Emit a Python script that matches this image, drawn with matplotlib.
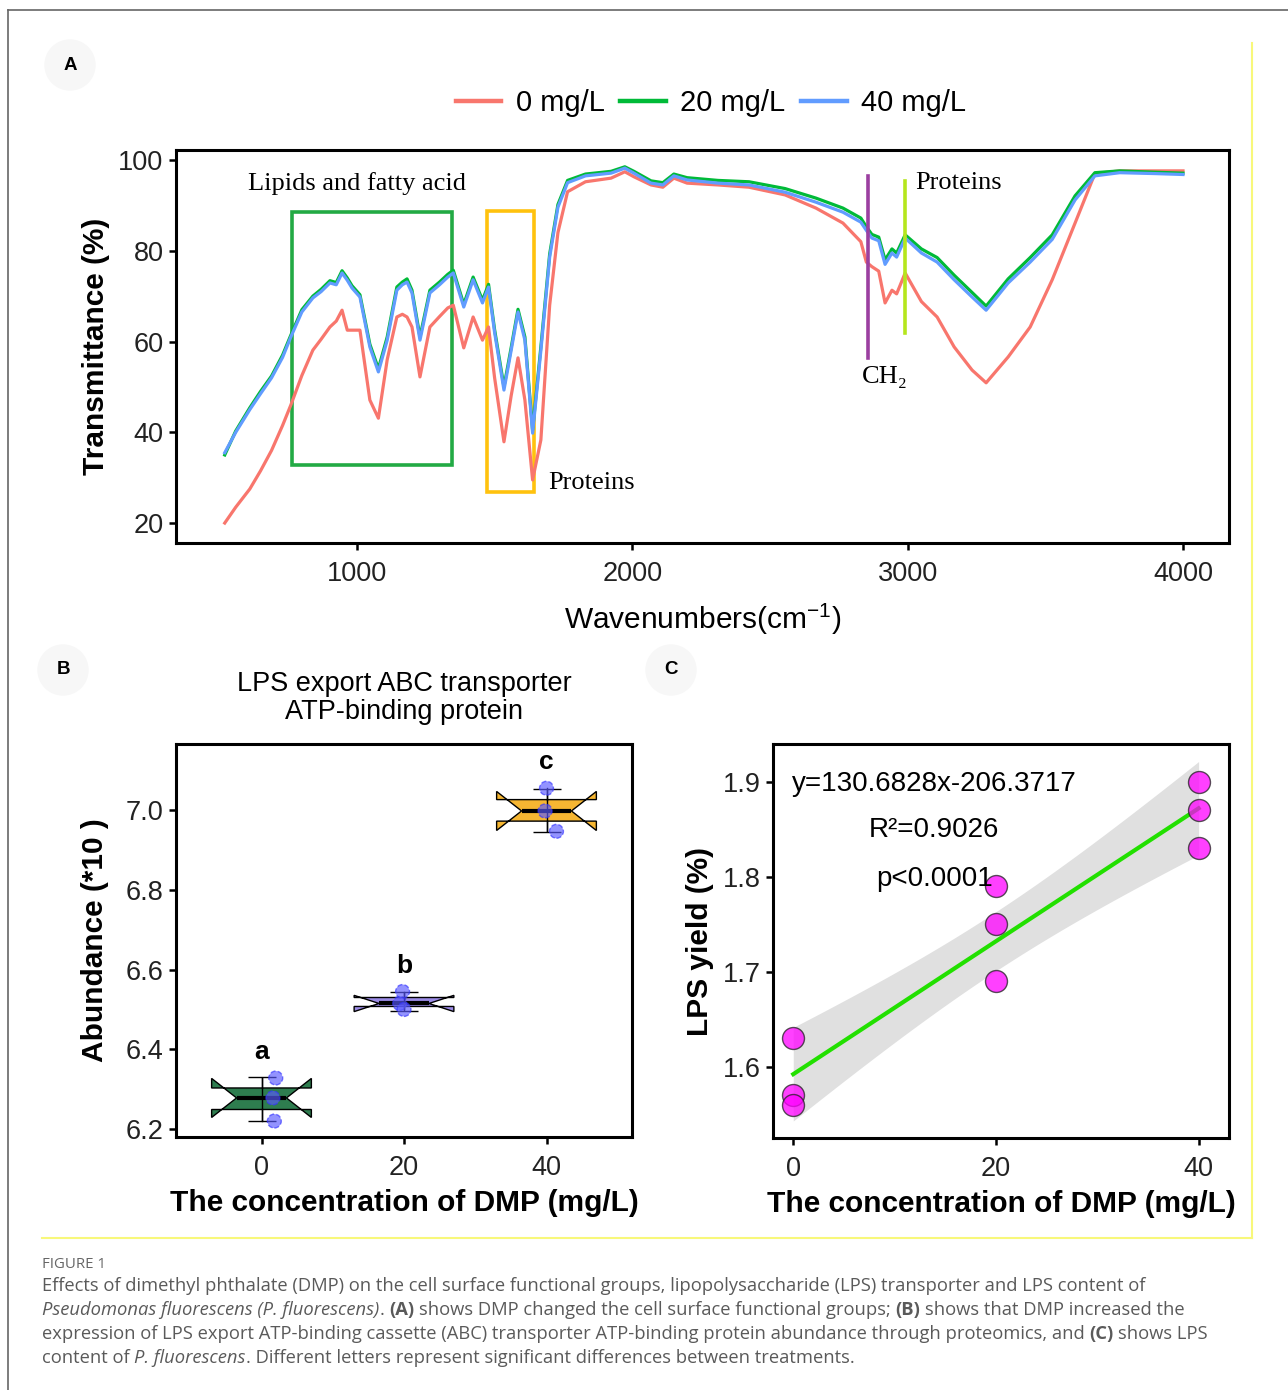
import numpy as np
import matplotlib.pyplot as plt
from matplotlib.lines import Line2D
from matplotlib.patches import Ellipse

plt.rcParams['font.family'] = 'Liberation Sans'
plt.rcParams['mathtext.fontset'] = 'custom'
plt.rcParams['mathtext.rm'] = 'Liberation Sans'

# ---- panel A: FTIR spectra ----
wavenumber = [520, 560, 611, 650, 690, 730, 760, 800, 840, 870, 902, 925, 946, 965, 982,
              1011, 1047, 1078, 1110, 1145, 1165, 1182, 1200, 1229, 1265, 1300, 1330, 1350,
              1388, 1422, 1456, 1478, 1500, 1534, 1560, 1585, 1610, 1638, 1668, 1700, 1730,
              1765, 1830, 1923, 1973, 2006, 2068, 2111, 2151, 2199, 2311, 2424, 2555, 2667,
              2765, 2830, 2850, 2870, 2895, 2918, 2943, 2960, 2991, 3050, 3107, 3169, 3234,
              3285, 3365, 3445, 3525, 3608, 3680, 3770, 3900, 4000]
trans_0 = [20, 23.5, 27.5, 31.5, 36, 41.5, 46, 52.5, 58.1, 60.5, 63.2, 64.5, 66.9, 62.5, 62.5,
           62.5, 47.1, 43.1, 56, 65.4, 66, 65.4, 63.2, 52.2, 63.2, 65.5, 67.4, 68.0,
           58.6, 65.4, 60.3, 63.2, 52, 37.9, 48, 56.4, 47.1, 29.5, 38.3, 68, 84,
           93.0, 95.2, 96.0, 97.4, 96.3, 94.5, 94.0, 96.0, 94.9, 94.5, 94.0, 92.3, 89.4,
           86.1, 82.0, 77.5, 76.5, 75.5, 68.5, 71.3, 70.5, 75.1, 68.8, 65.4, 58.8, 53.7,
           50.9, 56.6, 63.2, 73.6, 86.1, 97.0, 97.6, 97.6, 97.6]
trans_20 = [35.0, 40.3, 45.4, 49, 52.4, 57, 61.4, 67, 70, 71.5, 73.4, 73, 75.6, 74, 72.3,
            70.3, 59.4, 54, 61, 72, 73.1, 73.8, 71.3, 61, 71.3, 73.1, 74.8, 75.7,
            68.2, 74.2, 69.1, 72.6, 62.6, 50, 58.6, 67.1, 61, 40.5, 58.8, 79.3, 90.2,
            95.5, 96.9, 97.5, 98.5, 97.5, 95.4, 95, 96.9, 96.1, 95.5, 95.2, 93.7, 91.6,
            89.4, 87.2, 85.3, 83.6, 83, 78, 80.4, 79.5, 83.5, 80.4, 78.5, 74.6, 70.8,
            67.8, 73.8, 78.5, 83.5, 92.1, 97.2, 97.6, 97.3, 97.1]
trans_40 = [35.5, 40, 45, 48.5, 52, 56.5, 61, 66.5, 69.6, 71, 72.9, 72.5, 75.1, 73.5, 71.8,
            69.8, 58.8, 53.3, 60.3, 71.3, 72.5, 73.1, 70.7, 60.3, 70.7, 72.5, 74.2, 75.1,
            67.6, 73.6, 68.5, 72.0, 62, 49.3, 58, 66.5, 60.3, 39.8, 58, 78.6, 89.6,
            95.0, 96.5, 97.1, 98.2, 97.1, 94.9, 94.5, 96.5, 95.6, 94.9, 94.5, 92.9, 90.7,
            88.5, 86.3, 84.5, 82.8, 82.2, 77.0, 79.5, 78.6, 82.8, 79.5, 77.5, 73.6, 69.8,
            66.9, 72.9, 77.5, 82.5, 91.2, 96.5, 97.2, 97.0, 96.8]
spectra_labels = ['0 mg/L', '20 mg/L', '40 mg/L']
spectra_colors = ['#F8766D', '#00BA38', '#619CFF']

# ---- panel B: protein abundance ----
groups = ['0', '20', '40']
abund_0 = [6.328, 6.278, 6.220]
abund_20 = [6.545, 6.515, 6.500]
abund_40 = [7.055, 6.998, 6.947]
jitter = [[0.10, 0.08, 0.09], [-0.01, -0.03, 0.0], [0.0, -0.01, 0.07]]
sig_letters = ['a', 'b', 'c']
box_colors = ['#2E7D4F', '#9B8BE6', '#F6B632']

# ---- panel C: LPS yield ----
dmp_conc = [0, 0, 0, 20, 20, 20, 40, 40, 40]
lps_yield = [1.63, 1.57, 1.56, 1.79, 1.75, 1.69, 1.90, 1.87, 1.83]

W, H = 1288, 1390
fig = plt.figure(figsize=(W / 100, H / 100), dpi=100)


def fx(px):
    return px / W


def fy(py):
    return 1 - py / H


def style_axes(ax):
    for s in ax.spines.values():
        s.set_linewidth(2.2)
        s.set_color('black')
    ax.tick_params(direction='out', length=5, width=1.8, labelsize=19.5,
                   labelcolor='#222222', pad=4)


# ================= A =================
axA = fig.add_axes([fx(176), fy(543), (1229 - 176) / W, (543 - 150) / H])
for t, c in zip([trans_0, trans_20, trans_40], spectra_colors):
    axA.plot(wavenumber, t, color=c, lw=2.3, solid_joinstyle='round')
axA.set_xlim(343, 4167)
axA.set_ylim(15.6, 102.2)
axA.set_xticks([1000, 2000, 3000, 4000])
axA.set_yticks([20, 40, 60, 80, 100])
style_axes(axA)
axA.tick_params(axis='x', pad=8)
axA.set_ylabel('Transmittance (%)', fontsize=21.5, fontweight='bold')
axA.yaxis.set_label_coords(-0.063, 0.5)
axA.set_xlabel('Wavenumbers(cm$^{\\mathrm{-1}}$)', fontsize=21.5)
axA.xaxis.set_label_coords(0.5, -0.148)

# annotation boxes and lines
axA.add_patch(plt.Rectangle((764, 32.8), 1345 - 764, 88.5 - 32.8, fill=False,
                            ec='#22AA44', lw=2.6))
axA.add_patch(plt.Rectangle((1472, 26.8), 1643 - 1472, 88.8 - 26.8, fill=False,
                            ec='#FFC20E', lw=2.6))
axA.plot([2856, 2856], [56.4, 96.5], color='#9B3FA0', lw=2.6)
axA.plot([2990, 2990], [61.9, 95.4], color='#B5E61D', lw=2.6)
serif = ['Liberation Serif', 'DejaVu Serif']
axA.text(1000, 94.9, 'Lipids and fatty acid', family=serif, fontsize=19,
         ha='center', va='center')
axA.text(1694, 28.8, 'Proteins', family=serif, fontsize=19, ha='left', va='center')
axA.text(3027, 94.9, 'Proteins', family=serif, fontsize=19, ha='left', va='center')
axA.text(2834, 52.2, 'CH₂', family=serif, fontsize=19, ha='left', va='center')

handles = [Line2D([], [], color=c, lw=3.2) for c in spectra_colors]
fig.legend(handles, spectra_labels, loc='center', bbox_to_anchor=(fx(711), fy(103)),
           bbox_transform=fig.transFigure, ncol=3, frameon=False, fontsize=21,
           handlelength=1.55, handletextpad=0.5, columnspacing=0.55)

# ================= B =================
axB = fig.add_axes([fx(176), fy(1137), (632 - 176) / W, (1137 - 744) / H])
abund = [abund_0, abund_20, abund_40]
pos = [0, 1, 2]
bp = axB.boxplot(abund, positions=pos, widths=0.7, notch=True, patch_artist=True,
                 showcaps=False, showfliers=False,
                 medianprops=dict(color='black', lw=3),
                 boxprops=dict(edgecolor='black', lw=1),
                 whiskerprops=dict(color='black', lw=1))
for patch, c in zip(bp['boxes'], box_colors):
    patch.set_facecolor(c)
means = [np.mean(a) for a in abund]
sds = [np.std(a, ddof=1) for a in abund]
axB.errorbar(pos, means, yerr=sds, fmt='none', ecolor='black', elinewidth=1,
             capsize=10, capthick=1, zorder=4)
for p, a, j in zip(pos, abund, jitter):
    axB.scatter(np.add(p, j), a, s=100, color='#5A5AFF', alpha=0.65,
                edgecolors='#3333FF', linestyles='--', lw=1, zorder=5)
for p, a, lt in zip(pos, abund, sig_letters):
    axB.text(p, max(a) + 0.065, lt, fontsize=19, fontweight='bold',
             ha='center', va='center')
axB.set_xlim(-0.6, 2.6)
axB.set_ylim(6.18, 7.166)
axB.set_xticks(pos)
axB.set_xticklabels(groups)
axB.set_yticks([6.2, 6.4, 6.6, 6.8, 7.0])
axB.set_yticklabels(['6.2', '6.4', '6.6', '6.8', '7.0'])
style_axes(axB)
axB.tick_params(axis='x', pad=8)
axB.set_title('LPS export ABC transporter\nATP-binding protein', fontsize=19.5,
              linespacing=1.1, pad=18)
axB.set_ylabel('Abundance (*10 )', fontsize=21.5, fontweight='bold')
axB.yaxis.set_label_coords(-0.147, 0.5)
axB.set_xlabel('The concentration of DMP (mg/L)', fontsize=21.5, fontweight='bold')
axB.xaxis.set_label_coords(0.5, -0.132)

# ================= C =================
axC = fig.add_axes([fx(773), fy(1138), (1229 - 773) / W, (1138 - 744) / H])
x = np.array(dmp_conc, dtype=float)
y = np.array(lps_yield)
slope, intercept = np.polyfit(x, y, 1)
xx = np.linspace(x.min(), x.max(), 80)
fit = intercept + slope * xx
resid = y - (intercept + slope * x)
s_err = np.sqrt(np.sum(resid ** 2) / (len(x) - 2))
se = s_err * np.sqrt(1 / len(x) + (xx - x.mean()) ** 2 / np.sum((x - x.mean()) ** 2))
t_crit = 2.365
axC.fill_between(xx, fit - t_crit * se, fit + t_crit * se, color='#E0E0E0', lw=0, zorder=1)
axC.plot(xx, fit, color='#22E000', lw=3, zorder=2)
axC.scatter(x, y, s=250, color='#FF00FF', alpha=0.75, edgecolors='#222222', lw=1, zorder=3)
axC.text(13.9, 1.898, 'y=130.6828x-206.3717', fontsize=20, ha='center', va='center')
axC.text(13.9, 1.8495, 'R²=0.9026', fontsize=20, ha='center', va='center')
axC.text(13.9, 1.798, 'p<0.0001', fontsize=20, ha='center', va='center')
axC.set_xlim(-2, 43)
axC.set_ylim(1.525, 1.94)
axC.set_xticks([0, 20, 40])
axC.set_yticks([1.6, 1.7, 1.8, 1.9])
style_axes(axC)
axC.tick_params(axis='x', pad=8)
axC.set_ylabel('LPS yield (%)', fontsize=21.5, fontweight='bold')
axC.yaxis.set_label_coords(-0.13, 0.5)
axC.set_xlabel('The concentration of DMP (mg/L)', fontsize=21.5, fontweight='bold')
axC.xaxis.set_label_coords(0.5, -0.132)

# ---- panel letters ----
for lab, px, py in [('A', 70, 65), ('B', 63, 670), ('C', 671, 670)]:
    fig.add_artist(Ellipse((fx(px), fy(py)), 50 / W, 50 / H, transform=fig.transFigure,
                           color='#F7F7F7', zorder=0))
    fig.text(fx(px), fy(py), lab, fontsize=13.5, fontweight='bold', ha='center', va='center')

# ---- frame lines ----
fig.add_artist(Line2D([fx(8), fx(1288)], [fy(10), fy(10)], color='#666666', lw=1.2))
fig.add_artist(Line2D([fx(8), fx(8)], [fy(10), fy(1390)], color='#666666', lw=1.2))
fig.add_artist(Line2D([fx(1252), fx(1252)], [fy(43), fy(1238)], color='#F8F87A', lw=1.5))
fig.add_artist(Line2D([fx(42), fx(1252)], [fy(1238), fy(1238)], color='#F8F87A', lw=1.5))

# ---- caption (runs of normal / italic / bold text laid side by side) ----
fig.text(fx(42), fy(1264), 'FIGURE 1', fontsize=10.8, color='#666666', va='center',
         family='Open Sans')
caption = [
    [('Effects of dimethyl phthalate (DMP) on the cell surface functional groups, '
      'lipopolysaccharide (LPS) transporter and LPS content of', 'n')],
    [('Pseudomonas fluorescens (P. fluorescens)', 'i'), ('. ', 'n'), ('(A)', 'b'),
     (' shows DMP changed the cell surface functional groups; ', 'n'), ('(B)', 'b'),
     (' shows that DMP increased the', 'n')],
    [('expression of LPS export ATP-binding cassette (ABC) transporter ATP-binding protein '
      'abundance through proteomics, and ', 'n'), ('(C)', 'b'), (' shows LPS', 'n')],
    [('content of ', 'n'), ('P. fluorescens', 'i'),
     ('. Different letters represent significant differences between treatments.', 'n')],
]
styles = {'n': dict(), 'i': dict(style='italic'), 'b': dict(weight='bold')}
renderer = fig.canvas.get_renderer()
cap_size = 13.2


def text_width(s, kw):
    t = fig.text(0, 0, s, fontsize=cap_size, family='Open Sans', **kw)
    w = t.get_window_extent(renderer).width
    t.remove()
    return w


for i, runs in enumerate(caption):
    xpos = 42.0
    for s, st in runs:
        kw = styles[st]
        space_w = text_width('n n', kw) - text_width('nn', kw)
        lead = len(s) - len(s.lstrip(' '))
        trail = len(s) - len(s.rstrip(' '))
        core = s.strip(' ')
        xpos += lead * space_w
        t = fig.text(fx(xpos), fy(1286 + 24 * i), core, fontsize=cap_size, color='#5A5A5A',
                     va='center', family='Open Sans', **kw)
        xpos += t.get_window_extent(renderer).width + trail * space_w

fig.savefig('out.png', dpi=100)
